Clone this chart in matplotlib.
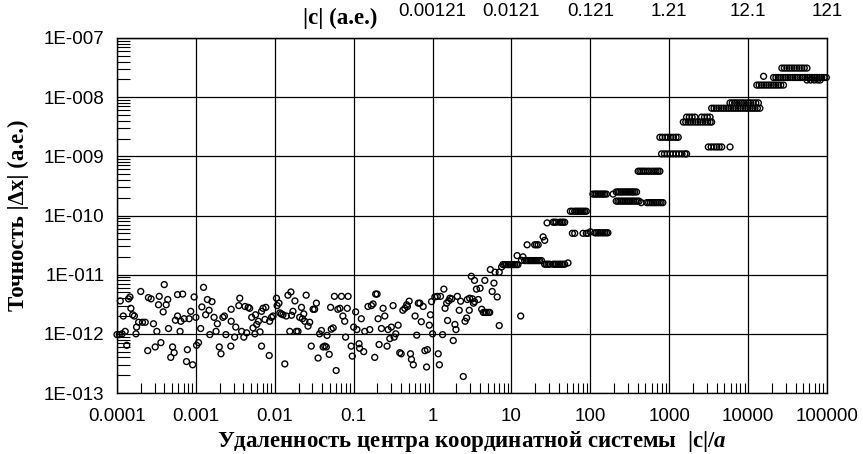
import numpy as np
import matplotlib.pyplot as plt

plt.rcParams['font.family'] = ['Liberation Sans', 'DejaVu Sans']
plt.rcParams['mathtext.fontset'] = 'custom'
plt.rcParams['mathtext.it'] = 'Liberation Serif:italic:bold'
plt.rcParams['mathtext.rm'] = 'Liberation Serif:bold'

# noisy part, |c|/a from 1e-4 to ~10
dec_1e4 = [(1.0e-4, 9.7e-13), (1.07e-4, 9.7e-13), (1.16e-4, 1.0e-12), (1.1e-4, 3.6e-12), (1.2e-4, 2.0e-12),
           (1.27e-4, 1.1e-12), (1.33e-4, 6.4e-13), (1.4e-4, 3.9e-12), (1.46e-4, 4.2e-12), (1.5e-4, 2.7e-12),
           (1.58e-4, 2.1e-12), (1.66e-4, 2.0e-12), (1.77e-4, 1.3e-12), (1.74e-4, 1.0e-12), (1.88e-4, 1.57e-12),
           (2.0e-4, 5.2e-12), (2.1e-4, 1.57e-12), (2.28e-4, 1.57e-12), (2.45e-4, 5.2e-13), (2.5e-4, 4.1e-12),
           (2.7e-4, 3.9e-12), (2.9e-4, 1.48e-12), (3.05e-4, 6.0e-13), (3.2e-4, 1.1e-12), (3.36e-4, 3.1e-12),
           (3.43e-4, 4.3e-12), (3.6e-4, 7.1e-13), (3.85e-4, 2.35e-12), (3.97e-4, 6.8e-12), (4.2e-4, 3.1e-12),
           (4.4e-4, 3.8e-12), (4.5e-4, 1.23e-12), (4.8e-4, 4.0e-13), (5.06e-4, 6.0e-13), (5.3e-4, 4.8e-13),
           (5.5e-4, 1.7e-12), (5.85e-4, 4.6e-12), (5.85e-4, 2.0e-12), (6.3e-4, 1.1e-12), (6.45e-4, 1.63e-12),
           (6.8e-4, 4.7e-12), (7.1e-4, 1.8e-12), (7.6e-4, 3.4e-13), (7.8e-4, 5.4e-13), (8.2e-4, 1.8e-12),
           (8.6e-4, 2.4e-12), (9.1e-4, 3.0e-13), (9.5e-4, 4.2e-12)]
dec_1e3 = [(1.0e-3, 1.9e-12), (1.02e-3, 6.4e-13), (1.08e-3, 7.1e-13), (1.15e-3, 1.23e-12), (1.19e-3, 2.85e-12),
           (1.25e-3, 6.1e-12), (1.33e-3, 2.1e-12), (1.4e-3, 3.8e-12), (1.47e-3, 2.5e-12), (1.5e-3, 9.7e-13),
           (1.6e-3, 3.5e-12), (1.7e-3, 1.9e-12), (1.8e-3, 1.1e-12), (1.87e-3, 1.48e-12), (1.98e-3, 6.0e-13),
           (2.08e-3, 4.6e-13), (2.2e-3, 1.9e-12), (2.3e-3, 2.0e-12), (2.4e-3, 9.7e-13), (2.8e-3, 2.6e-12),
           (2.8e-3, 1.63e-12), (2.77e-3, 6.2e-13), (3.2e-3, 1.3e-12), (3.1e-3, 8.8e-13), (3.6e-3, 4.0e-12),
           (3.5e-3, 3.0e-12), (3.8e-3, 1.1e-12), (4.05e-3, 8.8e-13), (4.2e-3, 2.9e-12), (4.4e-3, 1.04e-12),
           (4.6e-3, 2.8e-12), (4.8e-3, 2.7e-12), (5.1e-3, 1.9e-12), (5.3e-3, 1.26e-12), (5.6e-3, 1.0e-12),
           (5.7e-3, 2.1e-12), (5.9e-3, 1.44e-12), (6.2e-3, 1.63e-12), (6.5e-3, 1.08e-12), (6.8e-3, 2.4e-12),
           (6.8e-3, 6.2e-13), (7.1e-3, 2.7e-12), (7.5e-3, 1.75e-12), (7.7e-3, 2.8e-12), (8.5e-3, 4.3e-13),
           (8.6e-3, 1.63e-12), (9.1e-3, 1.9e-12), (9.5e-3, 2.0e-12)]
dec_1e2 = [(1.05e-2, 4.0e-12), (1.07e-2, 3.0e-12), (1.13e-2, 3.3e-12), (1.16e-2, 2.26e-12), (1.21e-2, 2.17e-12),
           (1.27e-2, 2.1e-12), (1.34e-2, 3.1e-13), (1.4e-2, 2.0e-12), (1.47e-2, 4.5e-12), (1.55e-2, 1.1e-12),
           (1.6e-2, 5.1e-12), (1.63e-2, 2.06e-12), (1.7e-2, 2.4e-12), (1.8e-2, 3.6e-12), (1.88e-2, 1.1e-12),
           (1.97e-2, 1.1e-12), (2.07e-2, 1.9e-12), (2.18e-2, 2.8e-12), (2.24e-2, 1.8e-12), (2.33e-2, 2.17e-12),
           (2.4e-2, 1.63e-12), (2.5e-2, 4.5e-12), (2.64e-2, 1.35e-12), (2.77e-2, 1.57e-12), (2.9e-2, 6.2e-13),
           (3.06e-2, 2.6e-12), (3.2e-2, 2.6e-12), (3.37e-2, 3.3e-12), (3.54e-2, 3.9e-13), (3.7e-2, 1.0e-12),
           (3.9e-2, 1.14e-12), (4.1e-2, 6.0e-13), (4.3e-2, 6.2e-13), (4.5e-2, 6.0e-13), (4.6e-2, 9.4e-13),
           (4.9e-2, 4.5e-13), (5.1e-2, 2.8e-12), (5.2e-2, 1.2e-12), (5.5e-2, 1.26e-12), (5.7e-2, 4.3e-12),
           (6.0e-2, 2.4e-13), (6.3e-2, 2.6e-12), (6.7e-2, 2.7e-12), (7.0e-2, 4.3e-12), (7.3e-2, 2.0e-12),
           (7.7e-2, 1.63e-12), (7.9e-2, 8.8e-13), (8.3e-2, 2.7e-12), (8.5e-2, 4.3e-12), (9.3e-2, 6.2e-13),
           (9.6e-2, 4.2e-13)]
dec_1e1 = [(1.0e-1, 1.3e-12), (1.06e-1, 2.35e-12), (1.1e-1, 1.18e-12), (1.17e-1, 6.8e-13), (1.19e-1, 5.7e-13),
           (1.25e-1, 1.8e-12), (1.34e-1, 5.0e-13), (1.38e-1, 1.1e-12), (1.52e-1, 2.9e-12), (1.6e-1, 1.18e-12),
           (1.68e-1, 3.0e-12), (1.76e-1, 3.2e-12), (1.85e-1, 4.0e-13), (1.9e-1, 4.7e-12), (1.98e-1, 4.7e-12),
           (2.04e-1, 1.8e-12), (2.1e-1, 6.6e-13), (2.25e-1, 1.23e-12), (2.36e-1, 2.7e-12), (2.48e-1, 2.0e-12),
           (2.65e-1, 6.2e-13), (2.73e-1, 1.18e-12), (2.87e-1, 8.3e-13), (3.0e-1, 1.3e-12), (3.16e-1, 3.0e-12),
           (3.26e-1, 8.8e-13), (3.42e-1, 1.0e-12), (3.66e-1, 1.4e-12), (3.84e-1, 4.8e-13), (4.0e-1, 4.6e-13),
           (4.2e-1, 2.5e-12), (4.45e-1, 2.7e-12), (4.7e-1, 3.1e-12), (4.8e-1, 2.9e-12), (5.05e-1, 3.56e-12),
           (5.25e-1, 4.6e-13), (5.4e-1, 3.7e-13), (5.7e-1, 3.0e-13), (6.0e-1, 2.0e-12), (6.3e-1, 9.5e-13),
           (6.6e-1, 3.3e-12), (6.9e-1, 3.3e-12), (7.2e-1, 1.6e-12), (7.6e-1, 2.9e-12), (8.0e-1, 5.2e-13),
           (8.4e-1, 2.75e-13), (8.6e-1, 5.4e-13), (9.1e-1, 1.4e-12), (9.4e-1, 2.1e-12), (9.7e-1, 3.5e-12)]
dec_1e0 = [(1.0, 1.0e-12), (1.07, 4.2e-12), (1.15, 4.3e-12), (1.18, 4.6e-13), (1.22, 3.0e-13), (1.26, 4.3e-12),
           (1.34, 9.7e-13), (1.39, 5.7e-12), (1.44, 2.7e-12), (1.51, 3.3e-12), (1.55, 1.68e-12), (1.6, 3.6e-12),
           (1.66, 4.0e-12), (1.75, 3.9e-12), (1.83, 7.7e-13), (1.92, 1.44e-12), (1.98, 1.18e-12), (2.06, 4.3e-12),
           (2.18, 2.5e-12), (2.27, 3.56e-12), (2.45, 1.9e-13), (2.58, 1.63e-12), (2.7, 1.85e-12), (2.76, 3.8e-12),
           (2.92, 2.5e-12), (2.95, 4.0e-12), (3.1, 9.4e-12), (3.4, 8.0e-12), (4.6, 8.0e-12), (3.6, 5.7e-12),
           (4.0, 5.9e-12), (6.0, 7.2e-12), (5.7, 5.2e-12), (6.6, 4.2e-12), (3.2, 3.9e-12), (3.4, 3.5e-12),
           (3.8, 3.8e-12), (3.3, 3.3e-12), (4.2, 2.6e-12), (4.4, 2.3e-12), (4.6, 2.3e-12), (4.8, 2.3e-12),
           (5.1, 2.3e-12), (5.3, 2.3e-12), (7.0, 1.38e-12), (13.1, 2.0e-12)]
# scattered points on the rising part
rise_pts = [(5.4, 1.22e-11), (6.2, 1.1e-11), (7.0, 1.1e-11), (7.5, 1.35e-11), (11.8, 2.1e-11), (14.0, 2.0e-11),
            (13.4, 1.75e-11), (52.1, 1.58e-11), (25.2, 4.35e-11), (26.4, 3.8e-11), (28.3, 7.5e-11),
            (100.0, 5.3e-11), (194.0, 2.3e-10), (15700.0, 2.25e-8)]
# step-like groups: (level, x positions)
steps = [
    (1.48e-11, [7.8, 8.2, 8.6, 9.1, 9.5, 10.0, 10.5, 11.0, 11.6, 12.1]),
    (1.73e-11, [14.7, 15.5, 16.3, 17.1, 17.9, 18.8, 19.7, 20.7, 21.8, 22.8, 24.0]),
    (1.5e-11, [26.4, 27.7, 29.1, 30.5, 33.7, 35.4, 37.1, 39.0, 40.9, 43.0, 45.1, 47.3]),
    (3.2e-11, [15.8, 19.7, 20.7, 21.8]),
    (7.7e-11, [33.7, 35.4, 37.1, 40.9, 43.0, 45.1, 47.3]),
    (1.18e-10, [55.8, 59.2, 63.4, 66.5, 69.8, 73.3, 76.9, 80.7, 84.7, 88.9]),
    (5.0e-11, [59.2, 63.4, 80.7, 88.9, 93.3]),
    (5.1e-11, [114, 119, 125, 131, 138, 145, 152, 160, 167]),
    (2.3e-10, [108, 114, 119, 125, 131, 138, 145, 152, 160]),
    (2.5e-10, [213, 224, 235, 247, 259, 272, 286, 300, 315, 330, 347, 364, 385]),
    (1.75e-10, [213, 224, 236, 248, 261, 275, 290, 305, 320, 337, 355, 374, 394, 415]),
    (1.65e-10, [442, 520, 548, 577, 608, 640, 674, 710, 748, 788, 830]),
    (5.6e-10, [404, 425, 448, 472, 497, 530, 560, 600, 640, 680, 720, 761]),
    (1.1e-9, [800, 870, 945, 1030, 1120, 1220, 1330, 1450, 1580, 1660]),
    (2.1e-9, [761, 820, 890, 960, 1040, 1130, 1220, 1300]),
    (1.44e-9, [3130, 3400, 3700, 4000, 4300, 4630, 5900]),
    (3.8e-9, [1510, 1620, 1740, 1870, 2000, 2150, 2310, 2480, 2660, 2860, 3070, 3300, 3450]),
    (4.6e-9, [1660, 1800, 1950, 2120, 2570, 2800, 3040, 3290]),
    (6.5e-9, [3450, 3700, 3970, 4260, 4570, 4900, 5260, 5640, 6050, 6490, 6960, 7470, 8010, 8600, 9220,
              9890, 10600, 11400, 12200, 13100, 14100]),
    (8.0e-9, [5900, 6300, 6750, 7200, 7700, 8250, 8800, 9400, 10100, 10800, 11600, 12500, 13500]),
    (1.6e-8, [12900, 13800, 14800, 15900, 17000, 18300, 19600, 21000, 22500, 24100, 25900, 28100]),
    (2.15e-8, [21000, 22500, 24100, 25900, 27800, 29800, 32000, 34300, 36800, 39500, 42400, 45500, 48800,
               52400, 56200, 60300, 64700, 69400, 74500, 80000, 85800, 92000, 98000]),
    (3.1e-8, [26800, 28800, 31000, 33300, 35800, 38500, 41400, 44500, 47900, 51500, 55700]),
    (1.95e-8, [55700, 62000, 69000, 76000, 82000]),
]

x_ticks = [1e-4, 1e-3, 1e-2, 1e-1, 1, 10, 100, 1000, 10000, 100000]
x_labels = ["0.0001", "0.001", "0.01", "0.1", "1", "10", "100", "1000", "10000", "100000"]
y_ticks = [1e-13, 1e-12, 1e-11, 1e-10, 1e-9, 1e-8, 1e-7]
y_labels = ["1E-013", "1E-012", "1E-011", "1E-010", "1E-009", "1E-008", "1E-007"]
top_ticks = [1, 10, 100, 1000, 10000, 100000]
top_labels = ["0.00121", "0.0121", "0.121", "1.21", "12.1", "121"]

pts = dec_1e4 + dec_1e3 + dec_1e2 + dec_1e1 + dec_1e0 + rise_pts
for lvl, xs in steps:
    pts = pts + [(x, lvl) for x in xs]
px = np.array([p[0] for p in pts])
py = np.array([p[1] for p in pts])

fig = plt.figure(figsize=(8.63, 4.54), dpi=100)
ax = fig.add_axes([117/863, 61/454, 710/863, 355/454])
ax.set_xscale('log')
ax.set_yscale('log')
ax.set_xlim(1e-4, 1e5)
ax.set_ylim(1e-13, 1e-7)

ax.grid(True, which='major', color='black', linewidth=0.9)
ax.set_axisbelow(True)
ax.scatter(px, py, s=18, facecolors='none', edgecolors='black', linewidths=1.0, zorder=3, clip_on=False)

ax.set_xticks(x_ticks)
ax.set_xticklabels(x_labels)
ax.set_yticks(y_ticks)
ax.set_yticklabels(y_labels)
ax.tick_params(which='major', length=0, labelsize=13.5)
ax.tick_params(axis='x', which='major', pad=11)
ax.tick_params(axis='y', which='major', pad=9)
ax.tick_params(which='minor', direction='in', width=0.8, color='black')
ax.tick_params(axis='x', which='minor', length=7, labelbottom=False)
ax.tick_params(axis='y', which='minor', length=9, labelleft=False)

top = ax.secondary_xaxis('top')
top.set_xticks(top_ticks)
top.set_xticklabels(top_labels)
top.tick_params(length=0, labelsize=13.5, pad=13)
top.xaxis.set_minor_locator(plt.NullLocator())

for sp in ax.spines.values():
    sp.set_linewidth(1.0)

lab_font = dict(fontsize=16.5, fontweight='bold', family='Liberation Serif')
fig.text(340/863, 1 - 24/454, "|c| (a.e.)", ha='center', va='baseline', **lab_font)
ax.set_xlabel("Удаленность центра координатной системы  |c|/$a$", **lab_font)
ax.xaxis.set_label_coords(0.5, -0.10)
ax.set_ylabel("Точность |Δx| (a.e.)", **lab_font)
ax.yaxis.set_label_coords(-0.124, 0.5)

fig.savefig("out.png", dpi=100)
